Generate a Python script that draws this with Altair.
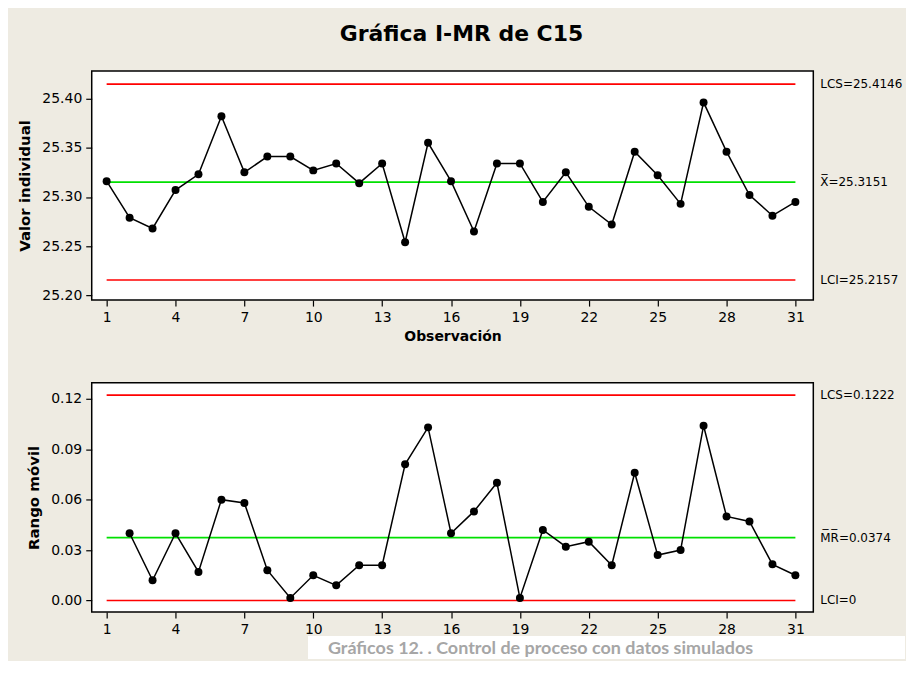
import altair as alt
import pandas as pd

# ---------------- data ----------------
observacion = list(range(1, 32))
valor_individual = [25.316, 25.279, 25.268, 25.307, 25.323, 25.382, 25.325, 25.341, 25.341, 25.327,
                    25.334, 25.314, 25.334, 25.254, 25.355, 25.316, 25.265, 25.334, 25.334, 25.295,
                    25.325, 25.290, 25.272, 25.346, 25.322, 25.293, 25.396, 25.346, 25.302, 25.281,
                    25.295]
rango_movil = [None, 0.040, 0.012, 0.040, 0.017, 0.060, 0.058, 0.018, 0.0015, 0.015,
               0.009, 0.021, 0.021, 0.081, 0.103, 0.040, 0.053, 0.070, 0.0015, 0.042,
               0.032, 0.035, 0.021, 0.076, 0.027, 0.030, 0.104, 0.050, 0.047, 0.0215,
               0.015]

limit_kind = ["LCS", "centro", "LCI"]
i_limits = [25.4146, 25.3151, 25.2157]
i_limit_labels = ["LCS=25.4146", "X\u0305=25.3151", "LCI=25.2157"]
mr_limits = [0.1222, 0.0374, 0.0]
mr_limit_labels = ["LCS=0.1222", "M\u0305R\u0305=0.0374", "LCI=0"]

x_ticks = list(range(1, 32, 3))
i_ticks = [25.20, 25.25, 25.30, 25.35, 25.40]
mr_ticks = [0.00, 0.03, 0.06, 0.09, 0.12]

titulo = "Gráfica I-MR de C15"
eje_x = "Observación"
eje_i = "Valor individual"
eje_mr = "Rango móvil"
pie = "Gráficos 12. . Control de proceso con datos simulados"

# ---------------- styling ----------------
W, H = 724, 230
FONT = "DejaVu Sans"
BG = "#EEEBE2"

df_i = pd.DataFrame({"obs": observacion, "val": valor_individual})
df_mr = pd.DataFrame({"obs": observacion, "val": rango_movil})
lim_i = pd.DataFrame({"kind": limit_kind, "val": i_limits, "label": i_limit_labels,
                      "x1": observacion[0], "x2": observacion[-1]})
lim_mr = pd.DataFrame({"kind": limit_kind, "val": mr_limits, "label": mr_limit_labels,
                       "x1": observacion[0], "x2": observacion[-1]})

xscale = alt.Scale(domain=[0.35, 31.78], nice=False, zero=False)
color_scale = alt.Scale(domain=limit_kind, range=["#FF0000", "#00E000", "#FF0000"])


def panel(df, lim, ydomain, yticks, ytitle, xtitle):
    xaxis = alt.Axis(values=x_ticks, title=xtitle, labelAngle=0) if xtitle else \
        alt.Axis(values=x_ticks, title=None, labelAngle=0)
    yscale = alt.Scale(domain=ydomain, nice=False, zero=False)
    yaxis = alt.Axis(values=yticks, format=".2f", title=ytitle)

    rules = alt.Chart(lim).mark_rule(strokeWidth=1.6).encode(
        x=alt.X("x1:Q", scale=xscale, axis=xaxis),
        x2="x2:Q",
        y=alt.Y("val:Q", scale=yscale, axis=yaxis),
        color=alt.Color("kind:N", scale=color_scale, legend=None),
    )
    labels = alt.Chart(lim).mark_text(
        align="left", baseline="middle", font=FONT, fontSize=12, color="black"
    ).encode(
        x=alt.value(W + 7),
        y=alt.Y("val:Q", scale=yscale),
        text="label:N",
    )
    line = alt.Chart(df).mark_line(color="black", strokeWidth=1.5).encode(
        x=alt.X("obs:Q", scale=xscale),
        y=alt.Y("val:Q", scale=yscale),
    )
    pts = alt.Chart(df).mark_circle(color="black", size=64, opacity=1).encode(
        x=alt.X("obs:Q", scale=xscale),
        y=alt.Y("val:Q", scale=yscale),
    )
    return rules + labels + line + pts


top = panel(df_i, lim_i, [25.1953, 25.428], i_ticks, eje_i, eje_x).properties(width=W, height=H)

cap_df = pd.DataFrame({"caption": [pie]})
cap_box = alt.Chart(cap_df).mark_rect(color="white").encode(
    x=alt.value(217), x2=alt.value(816), y=alt.value(254), y2=alt.value(277)
)
cap_text = alt.Chart(cap_df).mark_text(
    align="left", baseline="alphabetic", font="Lato", fontWeight="bold", fontSize=18,
    color="#A6A6A6"
).encode(x=alt.value(237), y=alt.value(272), text="caption:N")

bottom = (panel(df_mr, lim_mr, [-0.0069, 0.1295], mr_ticks, eje_mr, None)
          + cap_box + cap_text).properties(width=W, height=H)

chart = alt.vconcat(top, bottom, spacing=37).properties(
    title=alt.TitleParams(titulo, font=FONT, fontSize=22, fontWeight="bold", color="black",
                          anchor="middle", offset=24),
    padding={"left": 9, "top": 14, "right": 0, "bottom": 0},
    background=BG,
).configure_view(
    stroke="black", strokeWidth=1.5, fill="white"
).configure_axis(
    grid=False, domain=False, tickColor="black", tickSize=6, tickWidth=1.2,
    labelFont=FONT, labelFontSize=14, labelColor="black", labelPadding=4,
    titleFont=FONT, titleFontWeight="bold", titleColor="black",
).configure_axisY(titlePadding=9, titleFontSize=15).configure_axisX(titlePadding=6, titleFontSize=14)

chart.save("out.html", embed_options={"renderer": "svg", "actions": False})
